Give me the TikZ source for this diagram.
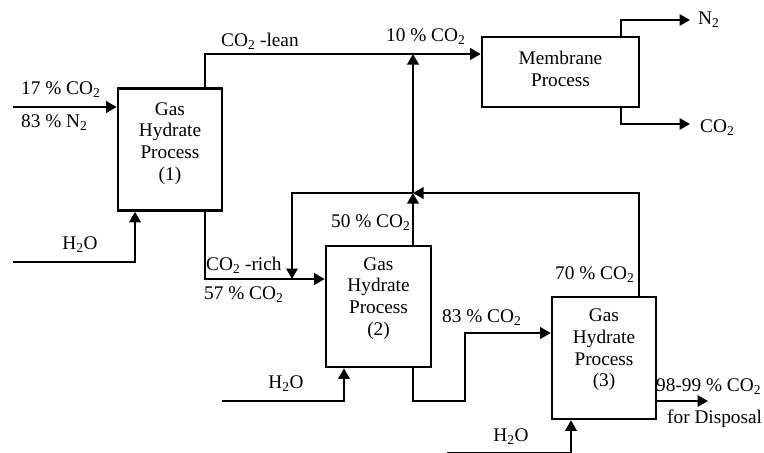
\documentclass[tikz,border=0pt]{standalone}
\usepackage{fontspec}
\setmainfont{Liberation Serif}
\usetikzlibrary{arrows.meta,calc}
\begin{document}
\begin{tikzpicture}[x=1pt,y=-1pt,
  every node/.style={font=\fontsize{19.3}{21.7}\selectfont, inner sep=0pt},
  procbox/.style={draw, line width=2.6pt, minimum width=#1},
  boxtext/.style={align=center},
  flow/.style={line width=2pt},
  arr/.style={flow, -{Triangle[length=10.5pt,width=11.5pt]}},
  lbl/.style={anchor=west}]
\useasboundingbox (0,0) rectangle (764,453);
% process boxes
\node[procbox=104pt, minimum height=122pt] (b1) at (170,149.5) {};
\node[procbox=105pt, minimum height=121pt] (b2) at (378.5,306.5) {};
\node[procbox=104pt, minimum height=122pt] (b3) at (604,358) {};
\node[procbox=157pt, minimum height=70pt] (mem) at (560.5,72) {};
\node[boxtext] (t1) at ([yshift=6pt]b1.center) {Gas\\Hydrate\\Process\\(1)};
\node[boxtext] (t2) at ([yshift=8pt]b2.center) {Gas\\Hydrate\\Process\\(2)};
\node[boxtext] (t3) at ([yshift=8pt]b3.center) {Gas\\Hydrate\\Process\\(3)};
\node[boxtext] (tm) at ([yshift=3pt]mem.center) {Membrane\\Process};
% free ends and junctions
\coordinate (in1) at (13,107);
\coordinate (w1) at (13,262);
\coordinate (w2) at (222,401);
\coordinate (w3) at (447,453);
\coordinate (j) at (413,193);
\coordinate (jt) at (413,54);
\coordinate (k) at (292,193);
\coordinate (m) at (292,279);
\coordinate (p1) at (413,401);
\coordinate (p2) at (465,401);
\coordinate (p3) at (465,333);
\coordinate (outN) at (690,20);
\coordinate (outC) at (690,124);
\coordinate (disp) at (708,401);
% connectors
\draw[arr] (in1) -- (in1 -| b1.west);
\draw[arr] (w1) -| ([xshift=-35pt]b1.south);
\draw[arr] ([xshift=35pt]b1.north) |- ([yshift=18pt]mem.west);
\draw[arr] ([xshift=35pt]b1.south) |- ([yshift=27.5pt]b2.west);
\draw[arr] (b2.north -| j) -- (j);
\draw[arr] (j) -- (jt);
\draw[arr] ([xshift=35pt]b3.north) |- (j);
\draw[arr] (j) -- (k) -- (m);
\draw[arr] (w2) -| ([xshift=-34.5pt]b2.south);
\draw[arr] (b2.south -| p1) -- (p1) -- (p2) -- (p3) -- ([yshift=25pt]b3.west);
\draw[arr] ([yshift=-43pt]b3.east) -- (disp);
\draw[arr] (w3) -| ([xshift=-33pt]b3.south);
\draw[arr] ([xshift=60.5pt]mem.north) |- (outN);
\draw[arr] ([xshift=60.5pt]mem.south) |- (outC);
% labels
\node[lbl] (l1) at (21,90) {17 \% CO\textsubscript{2}};
\node[lbl] (l2) at (21,123) {83 \% N\textsubscript{2}};
\node[lbl] (l3) at (221,41) {CO\textsubscript{2} -lean};
\node[lbl] (l4) at (386,37) {10 \% CO\textsubscript{2}};
\node[lbl] (l5) at (698,20) {N\textsubscript{2}};
\node[lbl] (l6) at (700,128) {CO\textsubscript{2}};
\node[lbl] (l7) at (331,223) {50 \% CO\textsubscript{2}};
\node[lbl] (l8) at (206,265) {CO\textsubscript{2} -rich};
\node[lbl] (l9) at (204,295) {57 \% CO\textsubscript{2}};
\node (l10) at (80,245) {H\textsubscript{2}O};
\node (l11) at (286,384) {H\textsubscript{2}O};
\node[lbl] (l12) at (442,318) {83 \% CO\textsubscript{2}};
\node[lbl] (l13) at (555,275) {70 \% CO\textsubscript{2}};
\node[lbl] (l14) at (656,387) {98-99 \% CO\textsubscript{2}};
\node[lbl] (l15) at (667,419) {for Disposal};
\node (l16) at (511,437) {H\textsubscript{2}O};
\end{tikzpicture}
\end{document}
